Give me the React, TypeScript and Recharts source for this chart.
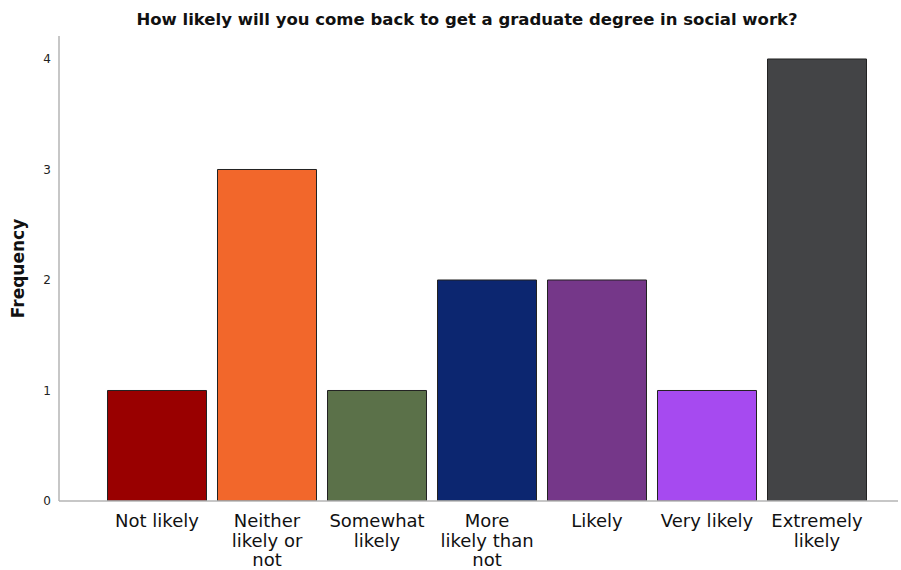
import React from 'react';
import { BarChart, Bar, XAxis, YAxis, Cell } from 'recharts';

const categories = ['Not likely', 'Neither likely or not', 'Somewhat likely', 'More likely than not', 'Likely', 'Very likely', 'Extremely likely'];
const tickLines = [['Not likely'], ['Neither', 'likely or', 'not'], ['Somewhat', 'likely'], ['More', 'likely than', 'not'], ['Likely'], ['Very likely'], ['Extremely', 'likely']];
const frequencies = [1, 3, 1, 2, 2, 1, 4];
const barColors = ['#990000', '#f2672b', '#5b7149', '#0c2670', '#753789', '#a64af0', '#434446'];
const yTicks = [0, 1, 2, 3, 4];

const chartData = categories.map((name, i) => ({ name, value: frequencies[i] }));

const FONT = '"DejaVu Sans", sans-serif';

const CategoryTick = ({ x, y, index }: any) => {
    const lines = tickLines[index] || [];
    return (
        <g transform={`translate(${x},${y})`}>
            {lines.map((line, i) => (
                <text key={i} x={0} y={18 + i * 19.5} textAnchor="middle" fill="#111" fontSize={18} fontFamily={FONT}>
                    {line}
                </text>
            ))}
        </g>
    );
};

export default function App() {
    return (
        <div style={{ position: 'absolute', left: 0, top: 0, width: 901, height: 570, background: '#fff' }}>
            <div style={{ position: 'absolute', left: 0, top: 10, width: 934, textAlign: 'center', fontFamily: FONT, fontWeight: 'bold', fontSize: 16.5, color: '#111' }}>
                How likely will you come back to get a graduate degree in social work?
            </div>
            <BarChart width={901} height={570} data={chartData} margin={{ top: 36, right: 3, left: 0, bottom: 0 }} barCategoryGap="5%">
                <XAxis
                    dataKey="name"
                    height={69}
                    padding={{ left: 43, right: 26 }}
                    tickLine={false}
                    axisLine={{ stroke: '#b5b5b5', strokeWidth: 1.5 }}
                    interval={0}
                    tick={<CategoryTick />}
                />
                <YAxis
                    width={59}
                    domain={[0, 4.208]}
                    ticks={yTicks}
                    allowDataOverflow
                    tickLine={false}
                    axisLine={{ stroke: '#b5b5b5', strokeWidth: 1.5 }}
                    tick={{ fontSize: 12, fill: '#222', fontFamily: FONT }}
                    label={{ value: 'Frequency', angle: -90, position: 'insideLeft', offset: 18, style: { textAnchor: 'middle', fontWeight: 'bold', fontSize: 17, fill: '#111', fontFamily: FONT } }}
                />
                <Bar dataKey="value" stroke="#222" strokeWidth={1} isAnimationActive={false}>
                    {chartData.map((entry, i) => (
                        <Cell key={`cell-${i}`} fill={barColors[i]} />
                    ))}
                </Bar>
            </BarChart>
        </div>
    );
}
